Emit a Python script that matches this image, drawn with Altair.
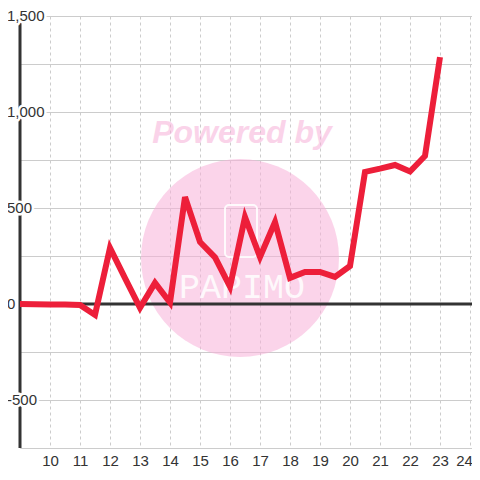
import altair as alt
import pandas as pd

# ---- data ----
x_vals = [9, 9.5, 10, 10.5, 11, 11.5, 12, 12.5, 13, 13.5, 14, 14.5, 15, 15.5,
          16, 16.5, 17, 17.5, 18, 18.5, 19, 19.5, 20, 20.5, 21, 21.5, 22, 22.5, 23]
y_vals = [0, -1, -2, -3, -5, -57, 292, 135, -20, 110, 8, 557, 323, 243,
          90, 453, 245, 427, 136, 167, 167, 141, 198, 688, 705, 724, 690, 771, 1286]

x_ticks = list(range(10, 25))
y_grid = [-750, -500, -250, 0, 250, 500, 750, 1000, 1250, 1500]
y_label_values = [-500, 0, 500, 1000, 1500]
y_label_texts = ["-500", "0", "500", "1,000", "1,500"]

df = pd.DataFrame({"x": x_vals, "y": y_vals})
labels_df = pd.DataFrame({"v": y_label_values, "t": y_label_texts})

xscale = alt.Scale(domain=[9, 9 + 452 / 30], nice=False, zero=False)
yscale = alt.Scale(domain=[-750, 1500], nice=False, zero=False)

FONT = "Liberation Sans"
GRID = "#cccccc"

x_axis = alt.Axis(values=x_ticks, grid=True, gridDash=[3, 3], gridColor=GRID,
                  ticks=False, domain=True, domainColor=GRID, title=None,
                  labelFont=FONT, labelFontSize=15, labelColor="#333333",
                  labelPadding=5, labelFlush=False,
                  labelOffset=alt.condition(alt.datum.value == 24, alt.value(-6), alt.value(0)))
y_axis = alt.Axis(values=y_grid, grid=True, gridColor=GRID, title=None,
                  labels=False, ticks=False, domain=False)

one = pd.DataFrame({"a": [0]})

# watermark
wm_circle = alt.Chart(one).mark_point(
    shape="circle", filled=True, size=39204, color="#f7b0d8", opacity=0.55
).encode(x=alt.value(220), y=alt.value(242))

wm_text = alt.Chart(one).mark_text(
    text="Powered by", font=FONT, fontSize=32, fontWeight="bold", fontStyle="italic",
    color="#f7b0d8", opacity=0.55, align="center", baseline="middle"
).encode(x=alt.value(222), y=alt.value(117))

wm_phone = alt.Chart(one).mark_rect(
    fill="white", fillOpacity=0, stroke="white", strokeWidth=2, cornerRadius=4, opacity=0.9
).encode(x=alt.value(205), x2=alt.value(237), y=alt.value(189), y2=alt.value(241))

wm_logo = alt.Chart(one).mark_text(
    text="PAPIMO", font="Liberation Mono", fontSize=35, color="white", opacity=0.85,
    align="center", baseline="middle"
).encode(x=alt.value(222), y=alt.value(271))

# axis line (left) and zero line
yaxis_rule = alt.Chart(pd.DataFrame({"x": [9]})).mark_rule(
    color="#333333", strokeWidth=3
).encode(x=alt.X("x:Q", scale=xscale, axis=x_axis))

zero_rule = alt.Chart(pd.DataFrame({"y": [0]})).mark_rule(
    color="#333333", strokeWidth=3
).encode(y=alt.Y("y:Q", scale=yscale, axis=y_axis))

line = alt.Chart(df).mark_line(
    color="#ED1F3A", strokeWidth=6, strokeJoin="miter", strokeCap="butt"
).encode(
    x=alt.X("x:Q", scale=xscale, axis=x_axis),
    y=alt.Y("y:Q", scale=yscale, axis=y_axis),
)

halo = alt.Chart(labels_df).mark_text(
    align="left", baseline="middle", font=FONT, fontSize=15,
    fill="white", stroke="white", strokeWidth=5, strokeJoin="round"
).encode(x=alt.value(-13), y=alt.Y("v:Q", scale=yscale, axis=y_axis), text="t:N")

ylabels = alt.Chart(labels_df).mark_text(
    align="left", baseline="middle", font=FONT, fontSize=15, color="#333333"
).encode(x=alt.value(-13), y=alt.Y("v:Q", scale=yscale, axis=y_axis), text="t:N")

chart = alt.layer(
    wm_circle, wm_text, wm_phone, wm_logo, yaxis_rule, zero_rule, line, halo, ylabels
).properties(
    width=452, height=432,
    padding={"left": 12, "top": 8, "right": 0, "bottom": 19},
    autosize=alt.AutoSizeParams(type="none"),
    background="white",
).configure_view(stroke=None)

chart.save("out.html", embed_options={"renderer": "svg", "actions": False})
